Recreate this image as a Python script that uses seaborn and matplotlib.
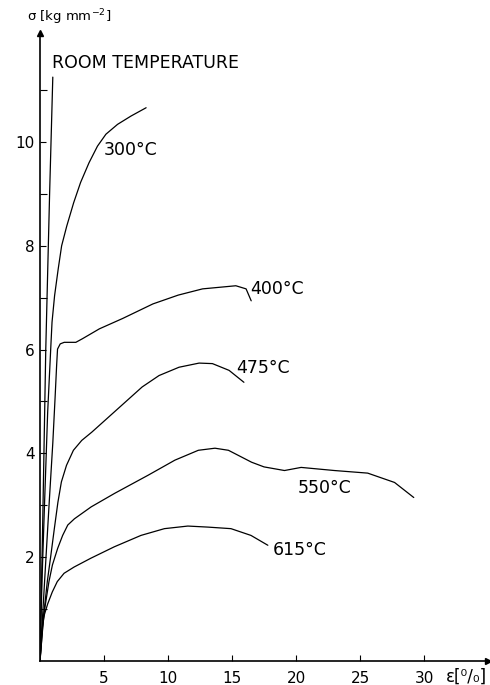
import numpy as np
import pandas as pd
import seaborn as sns
import matplotlib
import matplotlib.pyplot as plt

matplotlib.use('Agg')

# Spannungs-Dehnungs-Kurven (Dehnung in %, Spannung in kg/mm^2)
room_eps = [0, 0.2, 0.45, 0.75, 1.0]
room_sig = [0, 2.5, 6.0, 9.0, 11.25]

t300_eps = [0, 0.15, 0.35, 0.6, 0.85, 0.94, 1.14, 1.42, 1.69, 2.09, 2.63, 3.17, 3.83,
            4.49, 5.15, 6.06, 7.11, 8.29]
t300_sig = [0, 1.5, 3.0, 4.8, 6.08, 6.53, 7.04, 7.55, 8.0, 8.38, 8.83, 9.22, 9.6,
            9.92, 10.15, 10.34, 10.5, 10.66]

t400_eps = [0, 0.35, 0.73, 1.0, 1.18, 1.3, 1.37, 1.58, 1.89, 2.8, 3.32, 4.64, 6.46, 8.82,
            10.8, 12.7, 15.3, 16.1, 16.5]
t400_sig = [0, 1.5, 3.1, 4.2, 5.08, 5.7, 6.01, 6.11, 6.14, 6.14, 6.21, 6.4, 6.6, 6.88,
            7.05, 7.17, 7.23, 7.17, 6.94]

t475_eps = [0, 0.25, 0.57, 0.85, 1.12, 1.4, 1.67, 2.07, 2.61, 3.26, 4.05, 5.36, 6.67, 7.98,
            9.3, 10.86, 12.43, 13.47, 14.77, 15.93]
t475_sig = [0, 0.8, 1.53, 2.04, 2.55, 3.06, 3.45, 3.77, 4.06, 4.25, 4.41, 4.7, 4.99, 5.28,
            5.5, 5.66, 5.74, 5.73, 5.6, 5.37]

t550_eps = [0, 0.3, 0.7, 0.97, 1.38, 1.77, 2.17, 2.69, 4.0, 5.83, 8.45, 10.54, 12.37, 13.67,
            14.72, 16.53, 17.5, 19.1, 20.4, 23.0, 25.6, 27.7, 29.2]
t550_sig = [0, 0.9, 1.53, 1.85, 2.17, 2.42, 2.62, 2.74, 2.97, 3.23, 3.58, 3.87, 4.06, 4.1,
            4.06, 3.83, 3.74, 3.67, 3.73, 3.67, 3.62, 3.44, 3.15]

t615_eps = [0, 0.15, 0.35, 0.6, 0.96, 1.35, 1.88, 2.66, 3.97, 5.8, 7.89, 9.72, 11.55, 13.11,
            14.92, 16.48, 17.8]
t615_sig = [0, 0.6, 0.9, 1.1, 1.33, 1.53, 1.69, 1.81, 1.98, 2.2, 2.42, 2.55, 2.6, 2.58,
            2.55, 2.42, 2.23]

curves = [
    ('ROOM TEMPERATURE', room_eps, room_sig),
    ('300°C', t300_eps, t300_sig),
    ('400°C', t400_eps, t400_sig),
    ('475°C', t475_eps, t475_sig),
    ('550°C', t550_eps, t550_sig),
    ('615°C', t615_eps, t615_sig),
]

y_major = [2, 4, 6, 8, 10]
y_minor = [1, 3, 5, 7, 9, 11]
x_major = [5, 10, 15, 20, 25, 30]

sns.set_style('ticks')
plt.rcParams['font.family'] = ['DejaVu Sans']
plt.rcParams.update({'text.color': 'black', 'xtick.color': 'black',
                     'ytick.color': 'black', 'axes.labelcolor': 'black'})

fig = plt.figure(figsize=(4.9, 6.85), dpi=100)
ax = fig.add_axes([40 / 490, 24 / 685, 448 / 490, 628 / 685])

for name, eps, sig in curves:
    df = pd.DataFrame({'eps': eps, 'sig': sig})
    sns.lineplot(data=df, x='eps', y='sig', sort=False, estimator=None,
                 color='black', linewidth=0.9, ax=ax)

ax.set_xlim(0, 35.0)
ax.set_ylim(0, 12.1)

# Achsen wie im Original: nur links und unten, mit Pfeilen
sns.despine(ax=ax)
for side in ['left', 'bottom']:
    ax.spines[side].set_linewidth(1.2)
    ax.spines[side].set_color('black')
ax.plot(1, 0, '>k', markersize=5, transform=ax.get_yaxis_transform(), clip_on=False)
ax.plot(0, 1, '^k', markersize=4, transform=ax.get_xaxis_transform(), clip_on=False)

ax.set_xticks(x_major)
ax.set_xticklabels([str(v) for v in x_major])
ax.set_yticks(y_major)
ax.set_yticklabels([str(v) for v in y_major])
ax.set_yticks(y_minor, minor=True)
ax.tick_params(axis='both', direction='in', length=4, width=0.8, labelsize=11)
ax.tick_params(axis='x', pad=7)
ax.tick_params(axis='y', pad=4)
ax.tick_params(axis='y', which='minor', direction='in', length=5, width=0.8)
ax.set_xlabel('')
ax.set_ylabel('')

# Kurvenbeschriftungen
lab = dict(fontsize=12.5, va='center', ha='left')
ax.text(0.94, 11.52, 'ROOM TEMPERATURE', **lab)
ax.text(5.0, 9.85, '300°C', **lab)
ax.text(16.4, 7.17, '400°C', **lab)
ax.text(15.3, 5.65, '475°C', **lab)
ax.text(20.1, 3.33, '550°C', **lab)
ax.text(18.2, 2.13, '615°C', **lab)

# Achsentitel
fig.text(27 / 490, 1 - 17 / 685, 'σ [kg mm$^{-2}$]', fontsize=9.5, va='center', ha='left')
fig.text(446 / 490, 1 - 677 / 685, 'ε[⁰/₀]', fontsize=12, va='center', ha='left')

plt.savefig('out.png', dpi=100)
